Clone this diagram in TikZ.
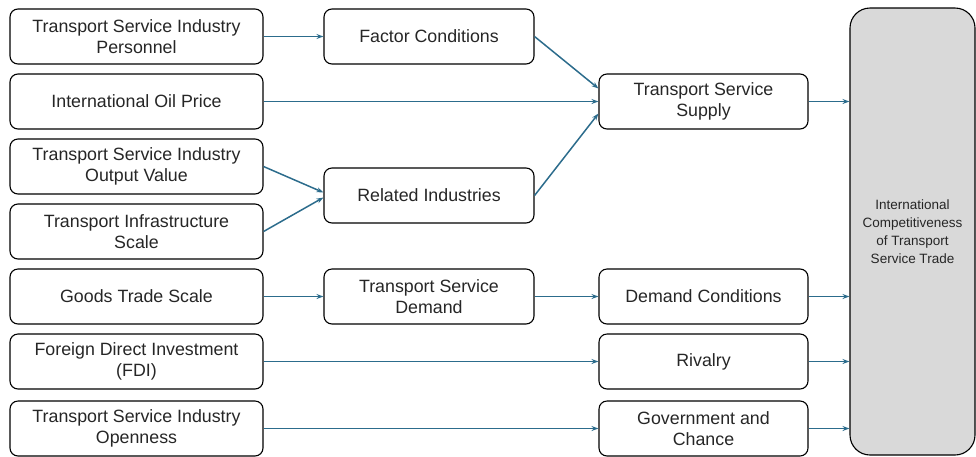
\documentclass[tikz,border=0pt]{standalone}
\usepackage{fontspec}
\setmainfont{Liberation Sans}
\usetikzlibrary{arrows.meta}

\definecolor{linkblue}{RGB}{44,108,140}
\definecolor{boxgray}{RGB}{217,217,217}

\tikzset{
  factor/.style={draw, rounded corners=8pt, line width=1.1pt, align=center,
    minimum height=55pt, inner sep=2pt, text=black!85,
    font=\fontsize{17.8}{21.5}\selectfont},
  link/.style={->, draw=linkblue, line width=1.5pt}
}

\begin{document}
\begin{tikzpicture}[x=1pt, y=-1pt, >={Stealth[length=7pt, width=5pt]}]
            \useasboundingbox (0,0) rectangle (976,456);

            % left column: basic factors
            \node[factor, minimum width=253pt] (P) at (136.5, 36.5) {Transport Service Industry\\Personnel};
            \node[factor, minimum width=253pt] (O) at (136.5, 101.5) {International Oil Price};
            \node[factor, minimum width=253pt] (V) at (136.5, 166.5) {Transport Service Industry\\Output Value};
            \node[factor, minimum width=253pt] (I) at (136.5, 231.5) {Transport Infrastructure\\Scale};
            \node[factor, minimum width=253pt] (G) at (136.5, 296.5) {Goods Trade Scale};
            \node[factor, minimum width=253pt] (F) at (136.5, 361.5) {Foreign Direct Investment\\(FDI)};
            \node[factor, minimum width=253pt] (S) at (136.5, 428.5) {Transport Service Industry\\Openness};

            % middle column
            \node[factor, minimum width=210pt] (FC) at (429, 36.5) {Factor Conditions};
            \node[factor, minimum width=210pt] (RI) at (429, 195.5) {Related Industries};
            \node[factor, minimum width=210pt] (TD) at (429, 296.5) {Transport Service\\Demand};

            % right column: diamond elements
            \node[factor, minimum width=209pt] (SU) at (703.5, 101.5) {Transport Service\\Supply};
            \node[factor, minimum width=209pt] (DC) at (703.5, 296.5) {Demand Conditions};
            \node[factor, minimum width=209pt] (RV) at (703.5, 361.5) {Rivalry};
            \node[factor, minimum width=209pt] (GC) at (703.5, 428.5) {Government and\\Chance};

            % outcome
            \node[draw, fill=boxgray, rounded corners=20pt, line width=1.1pt, minimum width=125pt,
                  minimum height=447pt, inner sep=0pt, align=center, text=black!85,
                  font=\fontsize{13.5}{18}\selectfont] (T) at (912.5, 231.5)
                  {International\\Competitiveness\\of Transport\\Service Trade};

            \draw[link] (P) -- (FC);
            \draw[link] (FC.east) -- ([yshift=13pt]SU.west);
            \draw[link] (O) -- (SU);
            \draw[link] (RI.east) -- ([yshift=-12pt]SU.west);
            \draw[link] (V.east) -- ([yshift=3pt]RI.west);
            \draw[link] (I.east) -- ([yshift=-2pt]RI.west);
            \draw[link] (G) -- (TD);
            \draw[link] (TD) -- (DC);
            \draw[link] (F) -- (RV);
            \draw[link] (S) -- (GC);

            % into the outcome box
            \draw[link] (SU.east) -- (SU.east -| T.west);
            \draw[link] (DC.east) -- (DC.east -| T.west);
            \draw[link] (RV.east) -- (RV.east -| T.west);
            \draw[link] (GC.east) -- (GC.east -| T.west);
        \end{tikzpicture}
\end{document}
